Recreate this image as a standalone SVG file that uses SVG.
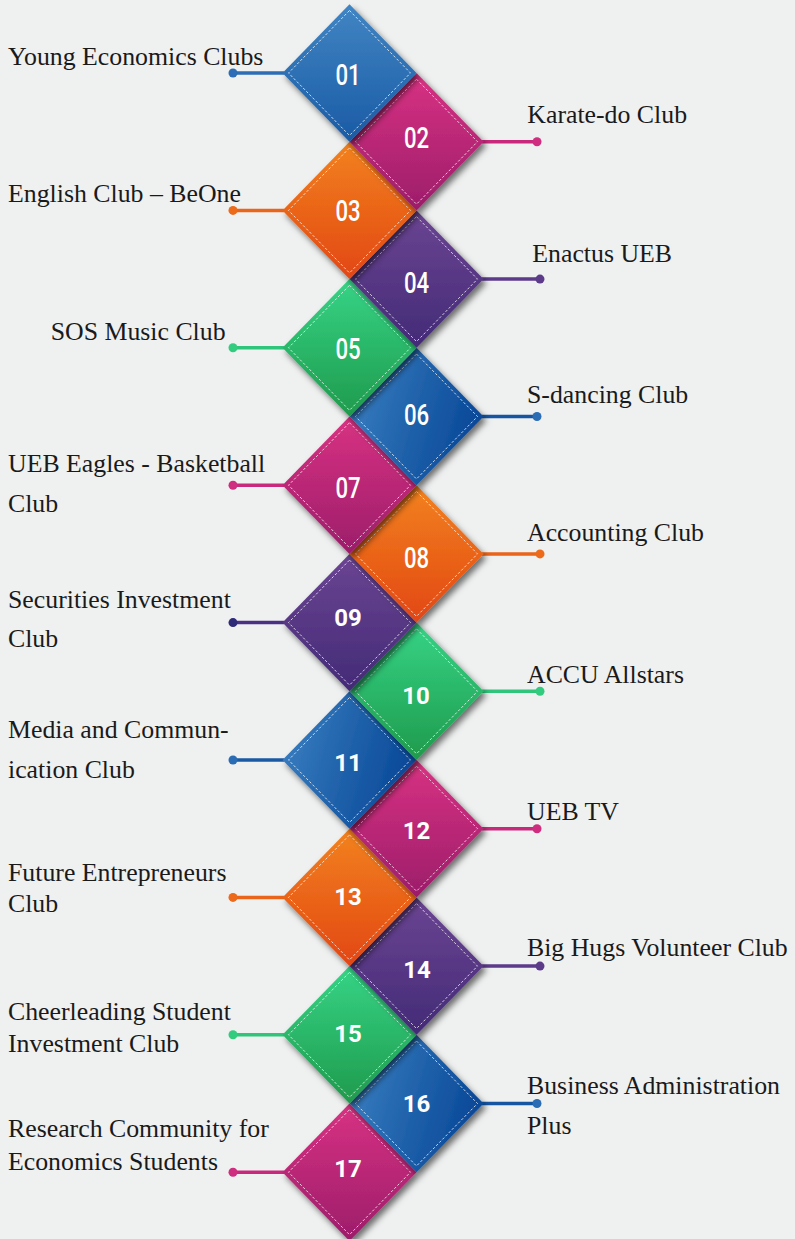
<svg xmlns="http://www.w3.org/2000/svg" width="795" height="1239" viewBox="0 0 795 1239">
<defs>
<linearGradient id="gBlue" x1="0" y1="0" x2="0" y2="1"><stop offset="0" stop-color="#4185c3"/><stop offset="1" stop-color="#1a5ba5"/></linearGradient>
<linearGradient id="gBlueH" x1="0" y1="0" x2="1" y2="0.3"><stop offset="0" stop-color="#3d82c3"/><stop offset="1" stop-color="#0a4a99"/></linearGradient>
<linearGradient id="gMag" x1="0" y1="0" x2="0" y2="1"><stop offset="0" stop-color="#d83282"/><stop offset="1" stop-color="#9c1d6a"/></linearGradient>
<linearGradient id="gOra" x1="0" y1="0" x2="0" y2="1"><stop offset="0" stop-color="#f2821c"/><stop offset="1" stop-color="#e24716"/></linearGradient>
<linearGradient id="gPur" x1="0" y1="0" x2="0" y2="1"><stop offset="0" stop-color="#6b4592"/><stop offset="1" stop-color="#432a77"/></linearGradient>
<linearGradient id="gGre" x1="0" y1="0" x2="0" y2="1"><stop offset="0" stop-color="#36d486"/><stop offset="1" stop-color="#1f9a4c"/></linearGradient>
<filter id="sh" x="-20%" y="-20%" width="150%" height="150%"><feDropShadow dx="3" dy="4" stdDeviation="3" flood-color="#000" flood-opacity="0.55"/></filter>
<path id="dia" d="M0,-68.7 L67,0 L0,68.7 L-67,0 Z"/>
<path id="inner" d="M0,-62.5 L61,0 L0,62.5 L-61,0 Z"/>
</defs>
<style>
.bg{fill:#eff0f0}
.in{fill:none;stroke:#ffffff;stroke-opacity:0.85;stroke-width:0.9;stroke-dasharray:2.5 2}
.lbl{font-family:"Liberation Serif","Times New Roman",serif;font-size:25.8px;fill:#1a1a1a}
.num{font-family:Roboto,"Liberation Sans",sans-serif;font-weight:700;font-size:24px;fill:#ffffff;text-anchor:middle}
.numc{font-family:Roboto,"Liberation Sans",sans-serif;font-weight:500;font-size:30px;fill:#ffffff;text-anchor:middle}
.ln{stroke-width:3.5;fill:none}
</style>
<rect class="bg" x="0" y="0" width="795" height="1239"/>

<g id="connectors">
<line class="ln" x1="233" y1="73" x2="284" y2="73" stroke="#2c6db5"/><circle cx="233" cy="73" r="4.5" fill="#2c6db5"/>
<line class="ln" x1="482" y1="141.7" x2="537" y2="141.7" stroke="#c9297c"/><circle cx="537" cy="141.7" r="4.5" fill="#cf2d7f"/>
<line class="ln" x1="233" y1="210.4" x2="284" y2="210.4" stroke="#ea6419"/><circle cx="233" cy="210.4" r="4.5" fill="#ec6a1a"/>
<line class="ln" x1="482" y1="279.1" x2="540" y2="279.1" stroke="#5c3b8b"/><circle cx="540" cy="279.1" r="4.5" fill="#5c3b8b"/>
<line class="ln" x1="233" y1="347.8" x2="284" y2="347.8" stroke="#2fc57a"/><circle cx="233" cy="347.8" r="4.5" fill="#32cc7f"/>
<line class="ln" x1="482" y1="416.5" x2="537" y2="416.5" stroke="#1555a2"/><circle cx="537" cy="416.5" r="4.5" fill="#2a6db5"/>
<line class="ln" x1="233" y1="485.2" x2="284" y2="485.2" stroke="#c9297c"/><circle cx="233" cy="485.2" r="4.5" fill="#cf2d7f"/>
<line class="ln" x1="482" y1="553.9" x2="540" y2="553.9" stroke="#ea6419"/><circle cx="540" cy="553.9" r="4.5" fill="#ec6a1a"/>
<line class="ln" x1="233" y1="622.6" x2="284" y2="622.6" stroke="#4a3183"/><circle cx="233" cy="622.6" r="4.5" fill="#2d2a78"/>
<line class="ln" x1="482" y1="691.3" x2="540" y2="691.3" stroke="#2fc57a"/><circle cx="540" cy="691.3" r="4.5" fill="#32cc7f"/>
<line class="ln" x1="233" y1="760" x2="284" y2="760" stroke="#1a5aa5"/><circle cx="233" cy="760" r="4.5" fill="#2a6db5"/>
<line class="ln" x1="482" y1="828.7" x2="537" y2="828.7" stroke="#c9297c"/><circle cx="537" cy="828.7" r="4.5" fill="#cf2d7f"/>
<line class="ln" x1="233" y1="897.4" x2="284" y2="897.4" stroke="#ea6419"/><circle cx="233" cy="897.4" r="4.5" fill="#ec6a1a"/>
<line class="ln" x1="482" y1="966.1" x2="540" y2="966.1" stroke="#5c3b8b"/><circle cx="540" cy="966.1" r="4.5" fill="#5c3b8b"/>
<line class="ln" x1="233" y1="1034.8" x2="284" y2="1034.8" stroke="#2fc57a"/><circle cx="233" cy="1034.8" r="4.5" fill="#32cc7f"/>
<line class="ln" x1="482" y1="1103.5" x2="537" y2="1103.5" stroke="#1555a2"/><circle cx="537" cy="1103.5" r="4.5" fill="#2a6db5"/>
<line class="ln" x1="233" y1="1172.2" x2="284" y2="1172.2" stroke="#c9297c"/><circle cx="233" cy="1172.2" r="4.5" fill="#cf2d7f"/>
</g>

<g id="node17">
<use href="#dia" x="349.5" y="1172.2" fill="url(#gMag)" filter="url(#sh)"/>
<use href="#inner" x="349.5" y="1172.2" class="in"/>
<text class="num" x="348" y="1176.5">17</text>
<text class="lbl" x="8" y="1137.3">Research Community for</text>
<text class="lbl" x="8" y="1170">Economics Students</text>
</g>
<g id="node16">
<use href="#dia" x="416.5" y="1103.5" fill="url(#gBlueH)" filter="url(#sh)"/>
<use href="#inner" x="416.5" y="1103.5" class="in"/>
<text class="num" x="416.5" y="1111.5">16</text>
<text class="lbl" x="527" y="1094">Business Administration</text>
<text class="lbl" x="527" y="1134">Plus</text>
</g>
<g id="node15">
<use href="#dia" x="349.5" y="1034.8" fill="url(#gGre)" filter="url(#sh)"/>
<use href="#inner" x="349.5" y="1034.8" class="in"/>
<text class="num" x="348" y="1041.5">15</text>
<text class="lbl" x="8" y="1020">Cheerleading Student</text>
<text class="lbl" x="8" y="1051.7">Investment Club</text>
</g>
<g id="node14">
<use href="#dia" x="416.5" y="966.1" fill="url(#gPur)" filter="url(#sh)"/>
<use href="#inner" x="416.5" y="966.1" class="in"/>
<text class="num" x="417" y="977.5">14</text>
<text class="lbl" x="527" y="956">Big Hugs Volunteer Club</text>
</g>
<g id="node13">
<use href="#dia" x="349.5" y="897.4" fill="url(#gOra)" filter="url(#sh)"/>
<use href="#inner" x="349.5" y="897.4" class="in"/>
<text class="num" x="348" y="904.5">13</text>
<text class="lbl" x="8" y="881">Future Entrepreneurs</text>
<text class="lbl" x="8" y="911.7">Club</text>
</g>
<g id="node12">
<use href="#dia" x="416.5" y="828.7" fill="url(#gMag)" filter="url(#sh)"/>
<use href="#inner" x="416.5" y="828.7" class="in"/>
<text class="num" x="416.5" y="838.5">12</text>
<text class="lbl" x="527" y="820">UEB TV</text>
</g>
<g id="node11">
<use href="#dia" x="349.5" y="760" fill="url(#gBlueH)" filter="url(#sh)"/>
<use href="#inner" x="349.5" y="760" class="in"/>
<text class="num" x="348" y="770.5">11</text>
<text class="lbl" x="8" y="738.3">Media and Commun-</text>
<text class="lbl" x="8" y="778.3">ication Club</text>
</g>
<g id="node10">
<use href="#dia" x="416.5" y="691.3" fill="url(#gGre)" filter="url(#sh)"/>
<use href="#inner" x="416.5" y="691.3" class="in"/>
<text class="num" x="416" y="703.5">10</text>
<text class="lbl" x="527" y="682.7">ACCU Allstars</text>
</g>
<g id="node09">
<use href="#dia" x="349.5" y="622.6" fill="url(#gPur)" filter="url(#sh)"/>
<use href="#inner" x="349.5" y="622.6" class="in"/>
<text class="num" x="348" y="625.5">09</text>
<text class="lbl" x="8" y="608.3">Securities Investment</text>
<text class="lbl" x="8" y="647.3">Club</text>
</g>
<g id="node08">
<use href="#dia" x="416.5" y="553.9" fill="url(#gOra)" filter="url(#sh)"/>
<use href="#inner" x="416.5" y="553.9" class="in"/>
<text class="numc" transform="translate(416.5,556.7) scale(0.74,1)" x="0" y="11">08</text>
<text class="lbl" x="527" y="540.7">Accounting Club</text>
</g>
<g id="node07">
<use href="#dia" x="349.5" y="485.2" fill="url(#gMag)" filter="url(#sh)"/>
<use href="#inner" x="349.5" y="485.2" class="in"/>
<text class="numc" transform="translate(348,487) scale(0.74,1)" x="0" y="11">07</text>
<text class="lbl" x="8" y="472">UEB Eagles - Basketball</text>
<text class="lbl" x="8" y="512">Club</text>
</g>
<g id="node06">
<use href="#dia" x="416.5" y="416.5" fill="url(#gBlueH)" filter="url(#sh)"/>
<use href="#inner" x="416.5" y="416.5" class="in"/>
<text class="numc" transform="translate(416.5,414) scale(0.74,1)" x="0" y="11">06</text>
<text class="lbl" x="527" y="403.3">S-dancing Club</text>
</g>
<g id="node05">
<use href="#dia" x="349.5" y="347.8" fill="url(#gGre)" filter="url(#sh)"/>
<use href="#inner" x="349.5" y="347.8" class="in"/>
<text class="numc" transform="translate(348,348) scale(0.74,1)" x="0" y="11">05</text>
<text class="lbl" x="50.7" y="340">SOS Music Club</text>
</g>
<g id="node04">
<use href="#dia" x="416.5" y="279.1" fill="url(#gPur)" filter="url(#sh)"/>
<use href="#inner" x="416.5" y="279.1" class="in"/>
<text class="numc" transform="translate(416.5,282) scale(0.74,1)" x="0" y="11">04</text>
<text class="lbl" x="532.3" y="261.7">Enactus UEB</text>
</g>
<g id="node03">
<use href="#dia" x="349.5" y="210.4" fill="url(#gOra)" filter="url(#sh)"/>
<use href="#inner" x="349.5" y="210.4" class="in"/>
<text class="numc" transform="translate(348,210) scale(0.74,1)" x="0" y="11">03</text>
<text class="lbl" x="8" y="201.7">English Club – BeOne</text>
</g>
<g id="node02">
<use href="#dia" x="416.5" y="141.7" fill="url(#gMag)" filter="url(#sh)"/>
<use href="#inner" x="416.5" y="141.7" class="in"/>
<text class="numc" transform="translate(416.5,137) scale(0.74,1)" x="0" y="11">02</text>
<text class="lbl" x="527.3" y="123.3">Karate-do Club</text>
</g>
<g id="node01">
<use href="#dia" x="349.5" y="73" fill="url(#gBlue)" filter="url(#sh)"/>
<use href="#inner" x="349.5" y="73" class="in"/>
<text class="numc" transform="translate(348,74) scale(0.74,1)" x="0" y="11">01</text>
<text class="lbl" x="8" y="65">Young Economics Clubs</text>
</g>
</svg>
